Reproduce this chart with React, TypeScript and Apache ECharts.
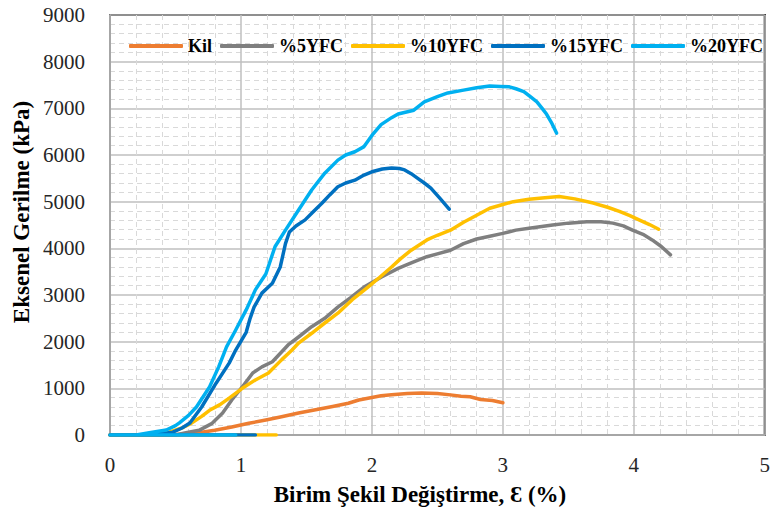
import React, { useEffect, useRef } from "react";
import * as echarts from "echarts";

// Strain (%) / axial stress (kPa) pairs for each mix
const kil: number[][] = [
  [0, 0], [0.4, 0], [0.6, 20], [0.7, 60], [0.8, 100], [0.93, 170], [1.06, 250], [1.19, 320],
  [1.31, 390], [1.44, 470], [1.57, 540], [1.7, 610], [1.82, 680], [1.9, 750], [1.99, 800],
  [2.07, 840], [2.15, 860], [2.27, 890], [2.38, 900], [2.5, 890], [2.6, 860], [2.68, 830],
  [2.75, 820], [2.83, 760], [2.92, 740], [3.0, 690],
];

const yfc5: number[][] = [
  [0, 0], [0.5, 0], [0.58, 50], [0.68, 100], [0.78, 250], [0.86, 470], [0.93, 750], [1.01, 1030],
  [1.09, 1330], [1.16, 1460], [1.24, 1570], [1.31, 1780], [1.36, 1930], [1.44, 2100], [1.54, 2320],
  [1.64, 2500], [1.74, 2740], [1.84, 2950], [1.94, 3170], [2.07, 3380], [2.2, 3570], [2.31, 3700],
  [2.42, 3820], [2.5, 3880], [2.6, 3960], [2.7, 4100], [2.8, 4200], [2.9, 4260], [3.0, 4320],
  [3.1, 4390], [3.2, 4430], [3.38, 4500], [3.5, 4540], [3.64, 4570], [3.75, 4570], [3.84, 4540],
  [3.92, 4480], [3.99, 4390], [4.07, 4300], [4.14, 4180], [4.21, 4040], [4.28, 3860],
];

const yfc10: number[][] = [
  [1.27, 0], [0, 0], [0.3, 0], [0.45, 60], [0.55, 150], [0.62, 250], [0.7, 400], [0.76, 530],
  [0.84, 650], [0.91, 790], [1.01, 1000], [1.11, 1180], [1.21, 1330], [1.31, 1610], [1.39, 1820],
  [1.44, 1970], [1.54, 2180], [1.64, 2400], [1.74, 2610], [1.85, 2900], [1.97, 3170], [2.06, 3380],
  [2.15, 3600], [2.22, 3780], [2.3, 3960], [2.42, 4180], [2.5, 4280], [2.6, 4390], [2.7, 4560],
  [2.8, 4710], [2.9, 4860], [3.0, 4940], [3.08, 5000], [3.2, 5050], [3.3, 5080], [3.43, 5110],
  [3.55, 5060], [3.69, 4970], [3.8, 4880], [3.89, 4790], [3.97, 4700], [4.04, 4610], [4.12, 4510],
  [4.19, 4410],
];

const yfc15: number[][] = [
  [1.11, 0], [0, 0], [0.3, 0], [0.4, 30], [0.48, 60], [0.55, 150], [0.61, 257], [0.7, 600],
  [0.81, 1110], [0.91, 1540], [0.96, 1820], [1.04, 2200], [1.07, 2500], [1.1, 2740], [1.16, 3040],
  [1.24, 3250], [1.3, 3600], [1.34, 4100], [1.37, 4350], [1.42, 4480], [1.49, 4610], [1.55, 4780],
  [1.62, 4970], [1.68, 5150], [1.74, 5320], [1.8, 5400], [1.87, 5460], [1.94, 5570], [2.0, 5640],
  [2.08, 5700], [2.15, 5720], [2.21, 5710], [2.25, 5680], [2.3, 5600], [2.35, 5500], [2.4, 5400],
  [2.45, 5290], [2.52, 5070], [2.59, 4840],
];

const yfc20: number[][] = [
  [0.96, 0], [0, 0], [0.2, 0], [0.3, 50], [0.43, 107], [0.5, 200], [0.53, 260], [0.6, 420],
  [0.66, 600], [0.76, 1030], [0.83, 1460], [0.89, 1890], [0.96, 2250], [1.04, 2680], [1.11, 3110],
  [1.19, 3450], [1.26, 4035], [1.34, 4390], [1.44, 4820], [1.54, 5250], [1.64, 5610], [1.74, 5890],
  [1.8, 6000], [1.87, 6070], [1.94, 6180], [2.0, 6420], [2.07, 6650], [2.15, 6800], [2.2, 6880],
  [2.32, 6960], [2.4, 7140], [2.5, 7250], [2.58, 7330], [2.7, 7390], [2.8, 7440], [2.9, 7480],
  [2.98, 7470], [3.05, 7460], [3.1, 7420], [3.16, 7360], [3.21, 7250], [3.26, 7140], [3.3, 7000],
  [3.33, 6890], [3.37, 6700], [3.41, 6470],
];

const seriesNames = ["Kil", "%5YFC", "%10YFC", "%15YFC", "%20YFC"];
const seriesData = [kil, yfc5, yfc10, yfc15, yfc20];
const seriesColors = ["#ED7D31", "#7F7F7F", "#FFC000", "#0070C0", "#00B0F0"];

const xTitle = "Birim Şekil Değiştirme, Ɛ (%)";
const yTitle = "Eksenel Gerilme (kPa)";

const serif = '"Liberation Serif", "Times New Roman", serif';

export default function App() {
  const ref = useRef<HTMLDivElement>(null);

  useEffect(() => {
    if (!ref.current) return;
    const chart = echarts.init(ref.current, undefined, { renderer: "svg" });

    const minorGrid = {
      show: true,
      lineStyle: { color: "#d9d9d9", type: [5, 4], width: 1 },
    };
    const majorGrid = { show: true, lineStyle: { color: "#bfbfbf", width: 1.5 } };
    const tickText = {
      fontFamily: serif,
      fontSize: 21,
      color: "#262626",
      formatter: (v: number) => String(v),
    };

    chart.setOption({
      animation: false,
      backgroundColor: "#ffffff",
      grid: {
        left: 110,
        top: 15,
        right: 3,
        bottom: 76,
        show: true,
        borderColor: "#000000",
        borderWidth: 2,
      },
      legend: {
        left: 124,
        top: 32,
        itemWidth: 54,
        itemHeight: 4,
        itemGap: 8,
        icon: "roundRect",
        data: seriesNames,
        textStyle: { fontFamily: serif, fontWeight: "bold", fontSize: 18, color: "#000" },
      },
      xAxis: {
        type: "value",
        min: 0,
        max: 5,
        interval: 1,
        axisLine: { show: true, onZero: false, lineStyle: { color: "#a6a6a6", width: 2 } },
        axisTick: { show: false },
        axisLabel: { ...tickText, margin: 19 },
        splitLine: majorGrid,
        minorTick: { show: false, splitNumber: 5 },
        minorSplitLine: minorGrid,
      },
      yAxis: {
        type: "value",
        min: 0,
        max: 9000,
        interval: 1000,
        axisLine: { show: true, onZero: false, lineStyle: { color: "#a6a6a6", width: 2 } },
        axisTick: { show: false },
        axisLabel: { ...tickText, margin: 25 },
        splitLine: majorGrid,
        minorTick: { show: false, splitNumber: 5 },
        minorSplitLine: minorGrid,
      },
      graphic: [
        {
          type: "text",
          x: 420,
          y: 494,
          style: {
            text: xTitle,
            align: "center",
            verticalAlign: "middle",
            font: `bold 23px ${serif}`,
            fill: "#000",
          },
        },
        {
          type: "text",
          x: 21,
          y: 212,
          rotation: Math.PI / 2,
          style: {
            text: yTitle,
            align: "center",
            verticalAlign: "middle",
            font: `bold 23px ${serif}`,
            fill: "#000",
          },
        },
      ],
      series: seriesNames.map((name, i) => ({
        name,
        type: "line",
        data: seriesData[i],
        showSymbol: false,
        symbol: "none",
        color: seriesColors[i],
        itemStyle: { color: seriesColors[i] },
        lineStyle: { color: seriesColors[i], width: 3.5, cap: "round", join: "round" },
        z: 3 + i,
      })),
    });

    return () => chart.dispose();
  }, []);

  return (
    <div
      ref={ref}
      style={{ position: "fixed", left: 0, top: 0, width: 773, height: 511 }}
    />
  );
}
